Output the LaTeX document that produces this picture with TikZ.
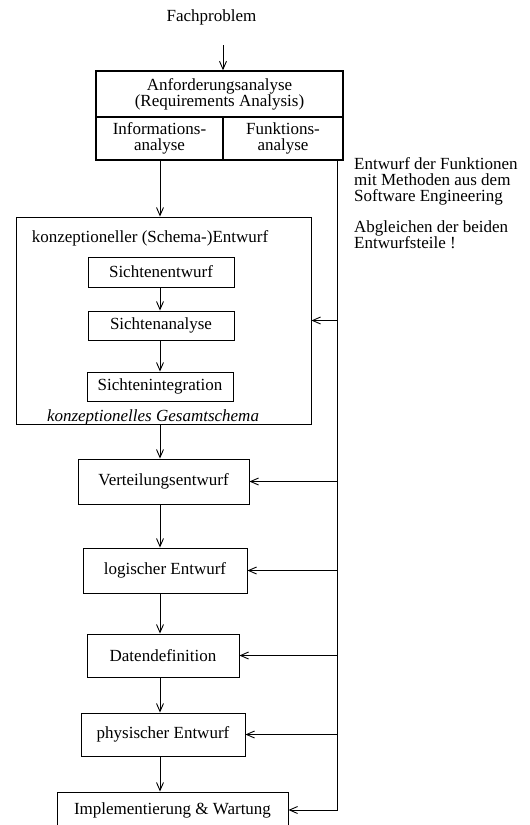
\documentclass[tikz,border=0pt]{standalone}
\usepackage{fontspec}
\setmainfont{Liberation Serif}
\usetikzlibrary{arrows.meta}
\begin{document}
\begin{tikzpicture}[x=1pt,y=-1pt,
  font=\fontsize{17}{16}\selectfont,
  box/.style={draw, line width=0.9pt, inner sep=0pt, align=center, rectangle},
  thickbox/.style={box, line width=1.4pt},
  arr/.style={-{Straight Barb[length=8pt,width=7pt]}, line width=0.9pt},
  ln/.style={line width=0.9pt},
  lbl/.style={inner sep=0pt, align=left}]
\useasboundingbox (0,0) rectangle (530,825);
% top
\node[inner sep=0pt] (fp) at (211.5,17) {Fachproblem};
\coordinate (fpin) at (223,45);
\node[thickbox, minimum width=247, minimum height=46] (req) at (219.5,94)
  {Anforderungsanalyse\\(Requirements Analysis)};
\node[thickbox, minimum width=127, minimum height=43] (info) at (159.5,138.5)
  {Informations-\\analyse};
\node[thickbox, minimum width=120, minimum height=43] (funk) at (283,138.5)
  {Funktions-\\analyse};
\draw[arr] (fpin) -- (fpin |- req.north);
% conceptual design
\node[box, minimum width=295, minimum height=207] (concept) at (163.5,320.5) {};
\node[inner sep=0pt] (ctitle) at (150,238) {konzeptioneller (Schema-)Entwurf};
\node[box, minimum width=146, minimum height=30] (sent) at (161,272) {Sichtenentwurf};
\node[box, minimum width=146, minimum height=29] (sana) at (161,325.5) {Sichtenanalyse};
\node[box, minimum width=146, minimum height=29] (sint) at (160,386.5) {Sichtenintegration};
\node[inner sep=0pt] (cres) at (153,417) {\itshape konzeptionelles Gesamtschema};
% lower chain
\node[box, minimum width=171, minimum height=45] (vert) at (163.5,481.5) {Verteilungsentwurf};
\node[box, minimum width=164, minimum height=45] (logi) at (165,570.5) {logischer Entwurf};
\node[box, minimum width=152, minimum height=43] (dat) at (163,655.5) {Datendefinition};
\node[box, minimum width=164, minimum height=43] (phys) at (163,734.5) {physischer Entwurf};
\node[box, minimum width=231, minimum height=36] (impl) at (172.5,810) {Implementierung \& Wartung};
% side text
\node[lbl, anchor=west] (t1) at (354,181) {Entwurf der Funktionen\\mit Methoden aus dem\\Software Engineering};
\node[lbl, anchor=west] (t2) at (354,234.5) {Abgleichen der beiden\\Entwurfsteile !};
% vertical arrows
\coordinate (col) at (160,0);
\draw[arr] (col |- info.south) -- (col |- concept.north);
\draw[arr] (col |- sent.south) -- (col |- sana.north);
\draw[arr] (col |- sana.south) -- (col |- sint.north);
\draw[arr] (col |- concept.south) -- (col |- vert.north);
\draw[arr] (col |- vert.south) -- (col |- logi.north);
\draw[arr] (col |- logi.south) -- (col |- dat.north);
\draw[arr] (col |- dat.south) -- (col |- phys.north);
\draw[arr] (col |- phys.south) -- (col |- impl.north);
% right feedback line
\coordinate (rtop) at (337,161);
\draw[arr] (rtop) |- (impl.east);
\draw[arr] (rtop |- concept.east) -- (concept.east);
\draw[arr] (rtop |- vert.east) -- (vert.east);
\draw[arr] (rtop |- logi.east) -- (logi.east);
\draw[arr] (rtop |- dat.east) -- (dat.east);
\draw[arr] (rtop |- phys.east) -- (phys.east);
\end{tikzpicture}
\end{document}
